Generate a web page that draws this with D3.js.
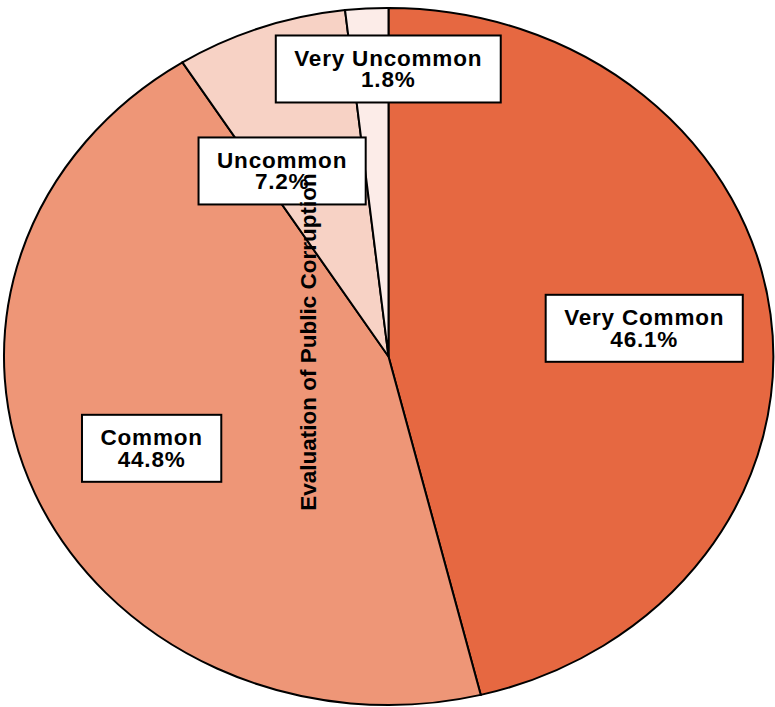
<!DOCTYPE html>
<html>
<head>
<meta charset="utf-8">
<script src="https://cdn.jsdelivr.net/npm/d3@7"></script>
<style>
  body { margin: 0; background: #fff; }
  svg { display: block; font-family: "Liberation Sans", Arial, sans-serif; }
</style>
</head>
<body>
<script>
// Data
const categories = ["Very Common", "Common", "Uncommon", "Very Uncommon"];
const shares = [46.1, 44.8, 7.2, 1.8];
const colors = ["#E66841", "#EE9677", "#F7D2C5", "#FCECE8"];
const axisTitle = "Evaluation of Public Corruption";

// label placement: fraction of radius and angle nudge (degrees)
const labelRadius = [0.67, 0.67, 0.60, 0.825];
const labelNudge = [0, 0, -8, 3.2];

const width = 775, height = 707;
const cx = 388.5, cy = 356.5, rx = 384.5, ry = 348.5;

const svg = d3.select("body").append("svg")
    .attr("width", width)
    .attr("height", height);

const pie = d3.pie().sort(null).value(d => d);
const arcs = pie(shares);

// unit arc, stretched into an ellipse
const arc = d3.arc().innerRadius(0).outerRadius(1);

svg.append("g")
    .attr("transform", `translate(${cx},${cy}) scale(${rx},${ry})`)
  .selectAll("path")
  .data(arcs)
  .enter().append("path")
    .attr("d", arc)
    .attr("fill", (d, i) => colors[i])
    .attr("stroke", "#000")
    .attr("stroke-width", 2)
    .attr("vector-effect", "non-scaling-stroke");

// labels
const labels = svg.append("g");
arcs.forEach((d, i) => {
    const a = (d.startAngle + d.endAngle) / 2 + labelNudge[i] * Math.PI / 180;
    const x = cx + Math.sin(a) * labelRadius[i] * rx;
    const y = cy - Math.cos(a) * labelRadius[i] * ry;
    const g = labels.append("g").attr("transform", `translate(${x},${y})`);
    const rect = g.append("rect");
    const t = g.append("text")
        .attr("text-anchor", "middle")
        .style("font-size", "22.5px")
        .style("font-weight", "bold")
        .style("letter-spacing", "0.8px")
        .attr("fill", "#000");
    t.append("tspan").attr("x", 0).attr("y", -3).text(categories[i]);
    t.append("tspan").attr("x", 0).attr("y", 18.5).text(shares[i].toFixed(1) + "%");
    const bb = t.node().getBBox();
    const w = bb.width + 37, h = 67;
    rect.attr("x", -w / 2).attr("y", -h / 2)
        .attr("width", w).attr("height", h)
        .attr("fill", "#fff")
        .attr("stroke", "#000")
        .attr("stroke-width", 2);
});

// axis title (drawn on top)
svg.append("text")
    .attr("transform", "translate(316,342) rotate(-90)")
    .attr("text-anchor", "middle")
    .style("font-size", "22.5px")
    .style("font-weight", "bold")
    .text(axisTitle);
</script>
</body>
</html>
